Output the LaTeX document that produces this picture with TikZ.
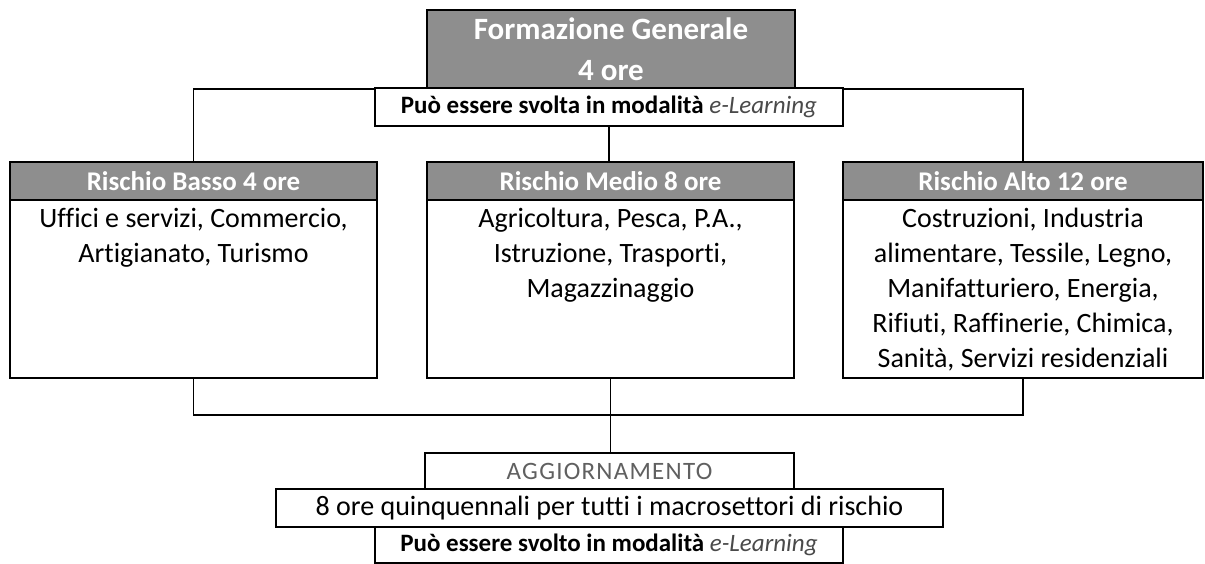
\documentclass[tikz,border=0pt]{standalone}
\usepackage{fontspec}
\setmainfont{Carlito}[Ligatures={NoCommon}]
\usetikzlibrary{calc}
\definecolor{hdrgray}{HTML}{8E8E8E}
\definecolor{eltxt}{HTML}{4A4A4A}
\definecolor{aggtxt}{HTML}{606060}
\tikzset{
  boxline/.style={draw=black, line width=1.8pt},
  conn/.style={draw=black, line width=1.5pt},
  bigbox/.style={boxline, fill=white, minimum width=367pt, minimum height=216pt, inner sep=0pt},
  hdr/.style={boxline, fill=hdrgray, text=white, font=\fontsize{27}{30}\selectfont\bfseries, minimum width=367pt, minimum height=38pt, inner sep=0pt},
  bodytxt/.style={align=flush center, font=\fontsize{28}{35}\selectfont, inner sep=0pt, text width=360pt},
  strip/.style={boxline, fill=white, inner sep=0pt},
}
\newcommand{\elearn}{\textit{\mdseries\color{eltxt}e-Learning}}
\begin{document}
\begin{tikzpicture}[x=1pt,y=-1pt]
\useasboundingbox (0,0) rectangle (1205,564);
% top
\node[boxline, fill=hdrgray, text=white, minimum width=368pt, minimum height=78pt, inner sep=0pt, align=center, font=\fontsize{31}{41}\selectfont\bfseries] (top) at (611,49) {Formazione Generale\\4 ore};
\coordinate (hub) at (611,89);
% three boxes
\node[bigbox] (lb) at (193.5,270) {};
\node[bigbox] (mb) at (610.5,270) {};
\node[bigbox, minimum width=360pt] (rb) at (1023,270) {};
\draw[conn] (lb.north) |- (hub) -| (rb.north);
\node[strip, minimum width=468pt, minimum height=38pt, font=\fontsize{25}{28}\selectfont\bfseries] (el1) at (609,107) {Può essere svolta in modalità \elearn};
\draw[conn] (el1.south) -- (el1.south |- mb.north);
\node[hdr, anchor=north] (lbh) at (lb.north) {Rischio Basso 4 ore};
\node[hdr, anchor=north] (mbh) at (mb.north) {Rischio Medio 8 ore};
\node[hdr, anchor=north, minimum width=360pt] (rbh) at (rb.north) {Rischio Alto 12 ore};
\node[bodytxt, anchor=north] (lbt) at ($(lbh.south)+(0,7)$) {Uffici e servizi, Commercio,\\Artigianato, Turismo};
\node[bodytxt, anchor=north] (mbt) at ($(mbh.south)+(0,7)$) {Agricoltura, Pesca, P.A.,\\Istruzione, Trasporti,\\Magazzinaggio};
\node[bodytxt, anchor=north] (rbt) at ($(rbh.south)+(0,7)$) {Costruzioni, Industria\\alimentare, Tessile, Legno,\\Manifatturiero, Energia,\\Rifiuti, Raffinerie, Chimica,\\Sanità, Servizi residenziali};
% bottom
\coordinate (j) at (610,415);
\draw[conn] (lb.south) |- (j) -| (rb.south);
\node[strip, minimum width=369pt, minimum height=36pt, text=aggtxt, font=\fontsize{25}{28}\selectfont\addfontfeature{LetterSpace=5}] (agg) at (609.5,471) {AGGIORNAMENTO};
\draw[conn] (mb.south) -- (mb.south |- agg.north);
\node[strip, minimum width=667pt, minimum height=38pt, font=\fontsize{28}{30}\selectfont] (ore) at (609.5,508) {8 ore quinquennali per tutti i macrosettori di rischio};
\node[strip, minimum width=468pt, minimum height=36pt, font=\fontsize{25}{28}\selectfont\bfseries] (el2) at (609,545) {Può essere svolto in modalità \elearn};
\end{tikzpicture}
\end{document}
